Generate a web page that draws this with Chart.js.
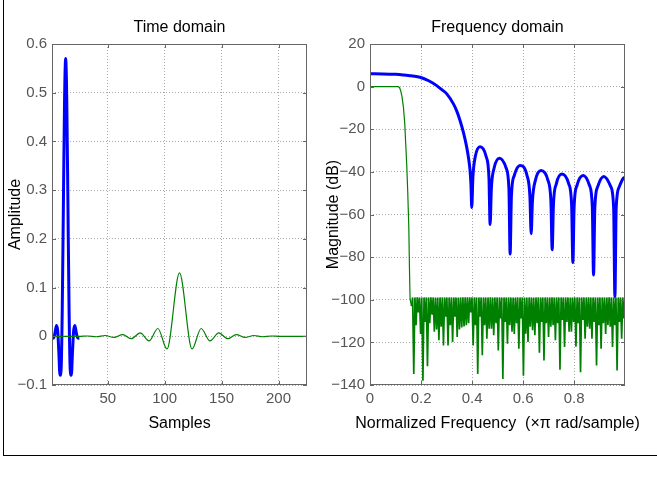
<!DOCTYPE html>
<html>
<head>
<meta charset="utf-8">
<title>Filter responses</title>
<script src="https://cdn.jsdelivr.net/npm/chart.js@4.4.0/dist/chart.umd.min.js"></script>
<style>
  body { margin: 0; background: #fff; overflow: hidden; }
  #fig { position: relative; width: 657px; height: 479px; }
  #frame { position: absolute; left: 3px; top: 0; width: 653px; height: 455px; border-left: 1px solid #000; border-bottom: 1px solid #000; }
  canvas { position: absolute; top: 0; }
  #timeChart { left: 0; }
  #freqChart { left: 318px; }
</style>
</head>
<body>
<div id="fig">
  <div id="frame"></div>
  <canvas id="timeChart" width="320" height="460"></canvas>
  <canvas id="freqChart" width="339" height="460"></canvas>
</div>
<script>
// short filter: 25 taps, n = 1..25
const blueTaps = [-0.004, -0.004, 0, 0.012, 0.022, 0.011, -0.032, -0.08, -0.068, 0.054, 0.27, 0.48,
                  0.57, 0.48, 0.27, 0.054, -0.068, -0.08, -0.032, 0.011, 0.022, 0.012, 0, -0.004, -0.004];

// long filter: 225 taps, sampled at its ripple peaks
const greenN   = [1, 24.6, 32.3, 40, 47.7, 55.4, 63.1, 70.8, 78.5, 86.2, 94, 102, 113,
                  124, 132, 139.8, 147.5, 155.2, 162.9, 170.6, 178.3, 186, 193.7, 201.4, 225];
const greenAmp = [0, -0.0003, 0.0006, -0.001, 0.0016, -0.0024, 0.0035, -0.005, 0.007, -0.0095, 0.016, -0.026, 0.13,
                  -0.026, 0.016, -0.0095, 0.007, -0.005, 0.0035, -0.0024, 0.0016, -0.001, 0.0006, -0.0003, 0];

// magnitude of the short filter (dB)
const blueFreq = [0, 0.05, 0.1, 0.1307, 0.15, 0.196, 0.23, 0.2614, 0.28, 0.3007, 0.3268, 0.34, 0.353, 0.366, 0.379, 0.386, 0.392, 0.3955, 0.3987,
  0.4030, 0.4125, 0.431, 0.455, 0.4660, 0.4706,
  0.4753, 0.4863, 0.507, 0.5333, 0.5443, 0.549,
  0.5539, 0.5655, 0.588, 0.6149, 0.6265, 0.6314,
  0.6363, 0.6479, 0.670, 0.6972, 0.7088, 0.7137,
  0.7186, 0.7299, 0.752, 0.7786, 0.7899, 0.7948,
  0.7997, 0.8110, 0.8353, 0.8596, 0.8709, 0.8758,
  0.8808, 0.8925, 0.916, 0.9428, 0.9545, 0.9595,
  0.9644, 0.9759, 0.9923, 1.0];
const blueMagDb = [6.0, 5.95, 5.75, 5.48, 5.25, 4.38, 2.75, 0.47, -1.3, -3.4, -8.1, -11.5, -16, -21.5, -28.5, -33.5, -39.4, -46, -56.7,
  -42.7, -32.8, -28.2, -32.8, -42.7, -64.7,
  -48.1, -38.2, -33.6, -38.2, -48.1, -78.5,
  -51.5, -41.6, -37, -41.6, -51.5, -69,
  -53.9, -44, -39.4, -44, -53.9, -76.5,
  -55.5, -45.6, -41, -45.6, -55.5, -82.5,
  -56.2, -46.3, -41.7, -46.3, -56.2, -88.4,
  -56.7, -46.8, -42.2, -46.8, -56.7, -98.6,
  -57.1, -47.2, -43.0, -42.6];

// magnitude of the long filter: passband + transition
const greenPassFreq = [0, 0.111, 0.116, 0.12, 0.125, 0.131, 0.136, 0.14, 0.144, 0.148, 0.152, 0.155, 0.157];
const greenPassDb   = [0, 0, -0.5, -1.9, -4.5, -9.7, -17, -27, -37, -50, -66, -88, -99.5];

// stopband: equiripple top, one null per lobe
const greenStopStart = 0.1625;
const greenStopStep = 0.00895;
const greenRippleTop = -98.9;
const greenNullDb = [-103, -134.8, -112, -106, -116, -138, -110.4, -131.2, -111, -107,
  -115, -114, -119, -112.7, -121.4, -108, -121.4, -112, -119.8, -108,
  -117.5, -114, -113, -112.5, -112, -111, -106, -121.4, -112, -134.8,
  -108, -126, -112, -118.3, -113.6, -113.6, -116.7, -111, -123.8, -108.8,
  -137.2, -110.4, -120.6, -112, -115, -116, -111, -123, -108.8, -135.6,
  -115.9, -119.8, -112.7, -114.3, -116.7, -111, -124.9, -110.4, -128.5, -111,
  -117.5, -112.7, -112, -119, -111, -132.8, -109.5, -122.2, -110.4, -115,
  -115, -110.4, -122, -111, -134, -109.5, -118.3, -112.7, -113.6, -118.3,
  -110.4, -130.9, -112, -123, -111, -116, -112, -112.7, -122.2, -112,
  -133.2, -110.4, -118.3, -108.8];

// tick labels
const sampleTicks = [50, 100, 150, 200];
const ampTicks = [-0.1, 0, 0.1, 0.2, 0.3, 0.4, 0.5, 0.6];
const freqTicks = [0, 0.2, 0.4, 0.6, 0.8];
const magTicks = [-140, -120, -100, -80, -60, -40, -20, 0, 20];

const FONT = '"Liberation Sans", Arial, Helvetica, sans-serif';
const BLUE = '#0000ff';
const GREEN = '#008000';

// build point lists
const blueTime = blueTaps.map((v, i) => ({x: i + 1, y: v}));
const greenTime = greenN.map((n, i) => ({x: n, y: greenAmp[i]}));
const blueMag = blueFreq.map((f, i) => ({x: f, y: blueMagDb[i]}));
const greenMag = greenPassFreq.map((f, i) => ({x: f, y: greenPassDb[i]}));
greenNullDb.forEach((db, i) => {
    const f = greenStopStart + i * greenStopStep;
    greenMag.push({x: f, y: db});
    greenMag.push({x: f + greenStopStep / 2, y: greenRippleTop});
});

const fmt = v => {
    const r = Math.round(v * 100) / 100;
    return r === 0 ? '0' : String(r).replace('-', '\u2212');
};

// axes box with inward tick marks, panel title and x label
// (x label drawn here so it is not squeezed to the plot width)
const axesBox = {
    id: 'axesBox',
    afterDraw(chart, args, opts) {
        const {ctx, chartArea: a, scales} = chart;
        ctx.save();
        ctx.strokeStyle = '#666';
        ctx.lineWidth = 1;
        ctx.strokeRect(a.left + 0.5, a.top + 0.5, a.width - 1, a.height - 1);
        ctx.beginPath();
        scales.x.ticks.forEach(t => {
            const px = Math.round(scales.x.getPixelForValue(t.value)) + 0.5;
            ctx.moveTo(px, a.bottom); ctx.lineTo(px, a.bottom - 4);
            ctx.moveTo(px, a.top); ctx.lineTo(px, a.top + 4);
        });
        scales.y.ticks.forEach(t => {
            const py = Math.round(scales.y.getPixelForValue(t.value)) + 0.5;
            ctx.moveTo(a.left, py); ctx.lineTo(a.left + 4, py);
            ctx.moveTo(a.right, py); ctx.lineTo(a.right - 4, py);
        });
        ctx.stroke();

        const cx = (a.left + a.right) / 2;
        ctx.fillStyle = '#000';
        ctx.textAlign = 'center';
        ctx.textBaseline = 'middle';
        ctx.font = '16px ' + FONT;
        ctx.fillText(opts.text, cx, 28);
        ctx.fillText(opts.xLabel, cx, 424);
        ctx.restore();
    }
};

function axisOptions(min, max, ticks, label, isX) {
    return {
        type: 'linear',
        min: min,
        max: max,
        afterBuildTicks: scale => { scale.ticks = ticks.map(v => ({value: v})); },
        afterFit: scale => {
            if (isX) scale.height = 60; else scale.width = 52;
        },
        grid: { color: '#a8a8a8', lineWidth: 1, drawTicks: false },
        border: { display: false, dash: [1, 2] },
        ticks: {
            color: '#555',
            font: { family: FONT, size: 15 },
            padding: 5,
            maxRotation: 0,
            autoSkip: false,
            callback: v => fmt(v)
        },
        title: {
            display: !isX,
            text: label,
            color: '#000',
            font: { family: FONT, size: 16 },
            padding: {top: 6, bottom: 0}
        }
    };
}

function makeChart(id, title, xLabel, datasets, xAxis, yAxis, rightPad) {
    return new Chart(document.getElementById(id).getContext('2d'), {
        type: 'line',
        data: { datasets: datasets },
        options: {
            responsive: false,
            animation: false,
            layout: { padding: { top: 44, right: rightPad, bottom: 15, left: 0 } },
            elements: { point: { radius: 0 } },
            plugins: {
                legend: { display: false },
                tooltip: { enabled: false },
                axesBox: { text: title, xLabel: xLabel }
            },
            scales: { x: xAxis, y: yAxis }
        },
        plugins: [axesBox]
    });
}

makeChart('timeChart', 'Time domain', 'Samples', [
    { data: blueTime, borderColor: BLUE, borderWidth: 3, cubicInterpolationMode: 'monotone', order: 1 },
    { data: greenTime, borderColor: GREEN, borderWidth: 1.2, cubicInterpolationMode: 'monotone', order: 0 }
], axisOptions(1, 225, sampleTicks, 'Samples', true),
   axisOptions(-0.1, 0.6, ampTicks, 'Amplitude', false), 13);

makeChart('freqChart', 'Frequency domain', 'Normalized Frequency  (\u00d7\u03c0 rad/sample)', [
    { data: blueMag, borderColor: BLUE, borderWidth: 3, cubicInterpolationMode: 'monotone', order: 1 },
    { data: greenMag, borderColor: GREEN, borderWidth: 1.2, tension: 0, order: 0,
      // the stopband comb is drawn a bit heavier
      segment: { borderWidth: c => c.p0.parsed.x > 0.158 ? 1.7 : 1.2 } }
], axisOptions(0, 0.999, freqTicks, 'Normalized Frequency', true),
   axisOptions(-140, 20, magTicks, 'Magnitude (dB)', false), 32);
</script>
</body>
</html>
